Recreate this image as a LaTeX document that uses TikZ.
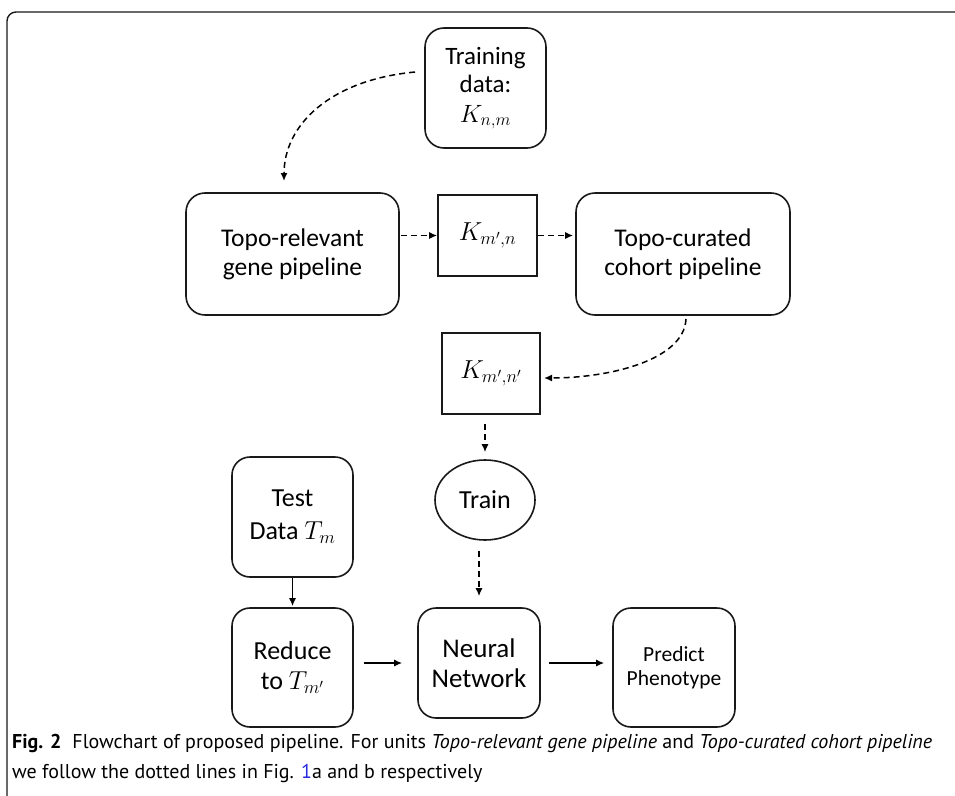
\documentclass[tikz,border=0pt]{standalone}
\usepackage{fix-cm}
\usepackage{fontspec}
\setmainfont{Carlito}
\newfontfamily\capfont{PT Sans}
\usetikzlibrary{arrows.meta,calc,shapes.geometric}
\definecolor{ink}{RGB}{25,25,25}
\definecolor{linkblue}{RGB}{40,40,220}
\tikzset{
  rbox/.style={draw=ink, line width=1.6pt, rounded corners=19pt, align=center, inner sep=0pt,
    font=\fontsize{25.5}{29}\selectfont},
  sbox/.style={draw=ink, line width=1.6pt, align=center, inner sep=0pt,
    font=\fontsize{26}{29}\selectfont},
  dasharrow/.style={draw=black, line width=1.5pt, dash pattern=on 6pt off 4pt,
    -{Latex[length=8pt,width=7pt]}},
  solidarrow/.style={draw=black, line width=1.5pt, -{Latex[length=8pt,width=7pt]}},
  frame/.style={draw=ink, line width=1.4pt, rounded corners=9pt},
  captxt/.style={anchor=base west, inner sep=0pt, font=\capfont\fontsize{20}{24}\selectfont}
}
\begin{document}
\begin{tikzpicture}[x=1pt,y=-1pt]
\useasboundingbox (0,0) rectangle (955,795);
\clip (0,0) rectangle (955,795);
\draw[frame] (7,12) rectangle (985,806);

% nodes
\node[rbox, minimum width=121pt, minimum height=120pt, font=\fontsize{25}{28}\selectfont] (train) at (485.5,88) {Training\\data:\\[2pt]$K_{n,m}$};
\node[rbox, minimum width=213pt, minimum height=122pt] (topo1) at (292.5,254) {Topo-relevant\\gene pipeline};
\node[sbox, minimum width=99pt, minimum height=81pt] (kmn) at (487.5,235.5) {$K_{m',n}$};
\node[rbox, minimum width=214pt, minimum height=122pt] (topo2) at (683,254) {Topo-curated\\cohort pipeline};
\node[sbox, minimum width=98pt, minimum height=81pt] (kmn2) at (491,373.5) {$K_{m',n'}$};
\node[ellipse, draw=ink, line width=1.6pt, minimum width=100pt, minimum height=80pt, inner sep=0pt,
  font=\fontsize{26}{29}\selectfont] (trainE) at (485,500) {Train};
\node[rbox, rounded corners=18pt, minimum width=121pt, minimum height=120pt, font=\fontsize{26}{33}\selectfont] (test) at (292.5,517) {Test\\Data $T_m$};
\node[rbox, rounded corners=18pt, minimum width=121pt, minimum height=119pt, font=\fontsize{26}{30}\selectfont] (reduce) at (292.5,667.5) {Reduce\\to $T_{m'}$};
\node[rbox, rounded corners=18pt, minimum width=122pt, minimum height=110pt, font=\fontsize{27}{30}\selectfont] (nn) at (479,663) {Neural\\Network};
\node[rbox, rounded corners=18pt, minimum width=122pt, minimum height=119pt, font=\fontsize{21.5}{24}\selectfont] (pred) at (674,667.5) {Predict\\Phenotype};

% connectors
\coordinate (c1) at (415,72);
\coordinate (c2) at (284,181);
\draw[dasharrow] (c1) .. controls (330,80) and (284,125) .. (c2);
\draw[dasharrow, shorten <=1pt] (kmn.west -| topo1.east) -- (kmn.west);
\draw[dasharrow, shorten >=2pt] (kmn.east) -- (kmn.east -| topo2.west);
\coordinate (c3) at (686,319);
\coordinate (c4) at (544,378);
\draw[dasharrow] (c3) .. controls (684,360) and (610,378) .. (c4);
\draw[dasharrow, shorten <=9pt, shorten >=7pt] (kmn2.south -| trainE.north) -- (trainE.north);
\draw[dasharrow, shorten <=10pt, shorten >=11pt] (trainE.south -| nn.north) -- (nn.north);
\draw[solidarrow, shorten >=1pt] (test) -- (reduce);
\draw[solidarrow, shorten <=10pt, shorten >=15pt] (nn.west -| reduce.east) -- (nn.west);
\draw[solidarrow, shorten <=8pt, shorten >=8pt] (nn.east) -- (nn.east -| pred.west);

% caption
\node[captxt] (cap1) at (12,748) {{\bfseries Fig. 2}\hspace{0.55em}Flowchart of proposed pipeline. For units \textit{Topo-relevant gene pipeline} and \textit{Topo-curated cohort pipeline}};
\node[captxt] (cap2) at (12,778) {we follow the dotted lines in Fig. {\color{linkblue}1}a and b respectively};
\end{tikzpicture}
\end{document}
